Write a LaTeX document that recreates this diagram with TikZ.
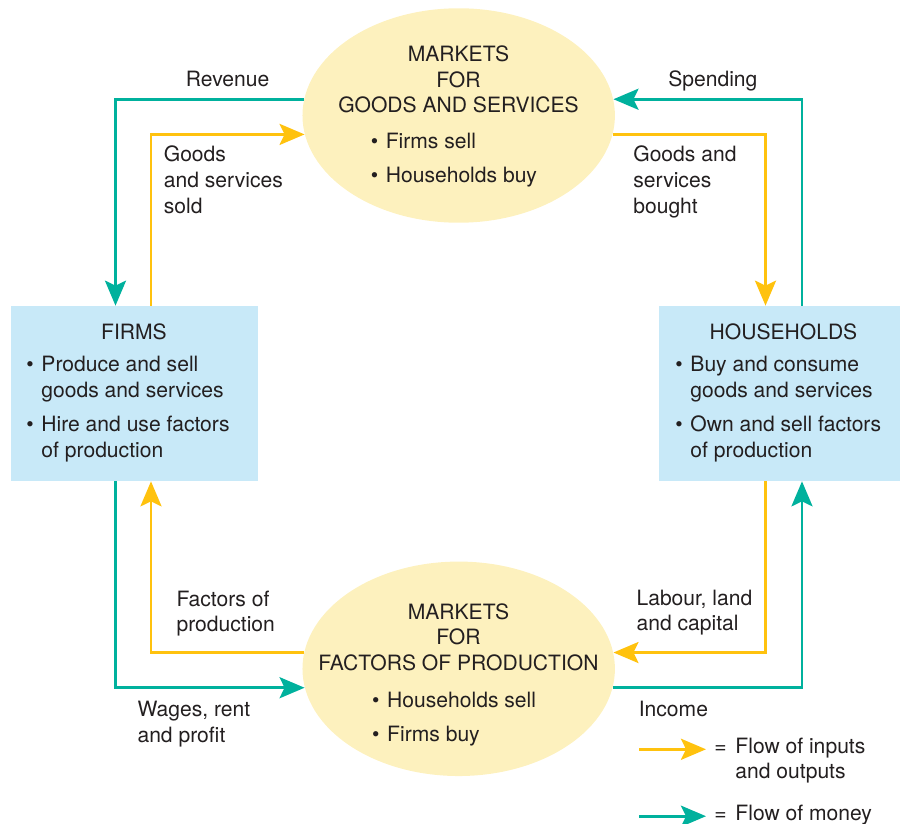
\documentclass[tikz,border=0pt]{standalone}
\usepackage{fontspec}
\setmainfont{TeX Gyre Heros}
\usetikzlibrary{arrows.meta,shapes.geometric}

\definecolor{moneycol}{RGB}{0,177,157}
\definecolor{goodscol}{RGB}{255,194,14}
\definecolor{marketfill}{RGB}{253,241,190}
\definecolor{sectorfill}{RGB}{200,233,248}
\definecolor{inkcol}{RGB}{35,31,32}

\newcommand{\txtblock}[2]{\begin{tabular}[t]{@{}#1@{}}#2\end{tabular}}

\tikzset{
  market/.style={ellipse,fill=marketfill,minimum width=6.25cm,minimum height=4.29cm,inner sep=0pt},
  sector/.style={rectangle,fill=sectorfill,minimum width=4.94cm,minimum height=3.5cm,inner sep=0pt},
  flow/.style={line width=1.7pt,-{Stealth[length=0.5cm,width=0.42cm,inset=0.1cm]}},
  moneyflow/.style={flow,draw=moneycol},
  goodsflow/.style={flow,draw=goodscol},
  lbl/.style={inner sep=0pt,anchor=base west},
  ttl/.style={inner sep=0pt,anchor=base}
}

\begin{document}
\begin{tikzpicture}[x=0.02cm,y=-0.02cm,font=\fontsize{12}{14.6}\selectfont,text=inkcol]
	\useasboundingbox (0,0) rectangle (900,824);
	% markets and sectors
	\node[market] (goodsmkt) at (458.7,115.5) {};
	\node[market] (factormkt) at (458.7,668.8) {};
	\node[sector] (firms) at (134.5,393.5) {};
	\node[sector] (households) at (782.5,393.5) {};

	\node[ttl] (goodsttl) at (458.5,61.7) {\txtblock{c}{MARKETS\\FOR\\GOODS AND SERVICES}};
	\node[lbl] (goodsitems) at (370.4,148.3) {\txtblock{l@{\hspace{4.4pt}}l}{\textbullet & Firms sell\\[4.9pt] \textbullet & Households buy}};
	\node[ttl] (factorttl) at (458.5,619) {\txtblock{c}{MARKETS\\FOR\\FACTORS OF PRODUCTION}};
	\node[lbl] (factoritems) at (371.8,707.3) {\txtblock{l@{\hspace{4.4pt}}l}{\textbullet & Households sell\\[4.9pt] \textbullet & Firms buy}};
	\node[ttl] (firmsttl) at (134,340) {FIRMS};
	\node[lbl] (firmsitems) at (26,371.7) {\txtblock{l@{\hspace{4.4pt}}l}{\textbullet & Produce and sell\\ & goods and services\\[4.9pt] \textbullet & Hire and use factors\\ & of production}};
	\node[ttl] (hhttl) at (783.5,339.3) {HOUSEHOLDS};
	\node[lbl] (hhitems) at (675,371.7) {\txtblock{l@{\hspace{4.4pt}}l}{\textbullet & Buy and consume\\ & goods and services\\[4.9pt] \textbullet & Own and sell factors\\ & of production}};

	% flows
	\draw[moneyflow] (goodsmkt.174) -| ([xshift=-0.38cm]firms.north);
	\draw[goodsflow] ([xshift=0.33cm]firms.north) |- (goodsmkt.187);
	\draw[goodsflow] (goodsmkt.353) -| ([xshift=-0.34cm]households.north);
	\draw[moneyflow] ([xshift=0.39cm]households.north) |- (goodsmkt.6);
	\draw[goodsflow] (factormkt.174) -| ([xshift=0.33cm]firms.south);
	\draw[moneyflow] ([xshift=-0.38cm]firms.south) |- (factormkt.187);
	\draw[goodsflow] ([xshift=-0.34cm]households.south) |- (factormkt.6);
	\draw[moneyflow] (factormkt.353) -| ([xshift=0.39cm]households.south);

	\node[lbl] (revenue) at (185.5,86.7) {Revenue};
	\node[lbl] (spending) at (668,86.7) {Spending};
	\node[lbl] (sold) at (163.5,161.7) {\txtblock{l}{Goods\\and services\\sold}};
	\node[lbl] (bought) at (633,161.7) {\txtblock{l}{Goods and\\services\\bought}};
	\node[lbl] (factors) at (176.2,606) {\txtblock{l}{Factors of\\production}};
	\node[lbl] (labour) at (636.2,605) {\txtblock{l}{Labour, land\\and capital}};
	\node[lbl] (wages) at (137.2,716.7) {\txtblock{l}{Wages, rent\\and profit}};
	\node[lbl] (income) at (638.5,716.7) {Income};

	% key
	\coordinate (keygoods) at (639,749.3);
	\coordinate (keymoney) at (639,816.2);
	\draw[goodsflow] (keygoods) -- ++(67,0);
	\draw[moneyflow] (keymoney) -- ++(67,0);
	\node[lbl] (keyin) at (714,753.3) {\txtblock{l@{\hspace{5pt}}l}{= & Flow of inputs\\ & and outputs}};
	\node[lbl] (keycash) at (714,820.2) {\txtblock{l@{\hspace{5pt}}l}{= & Flow of money}};
\end{tikzpicture}
\end{document}
